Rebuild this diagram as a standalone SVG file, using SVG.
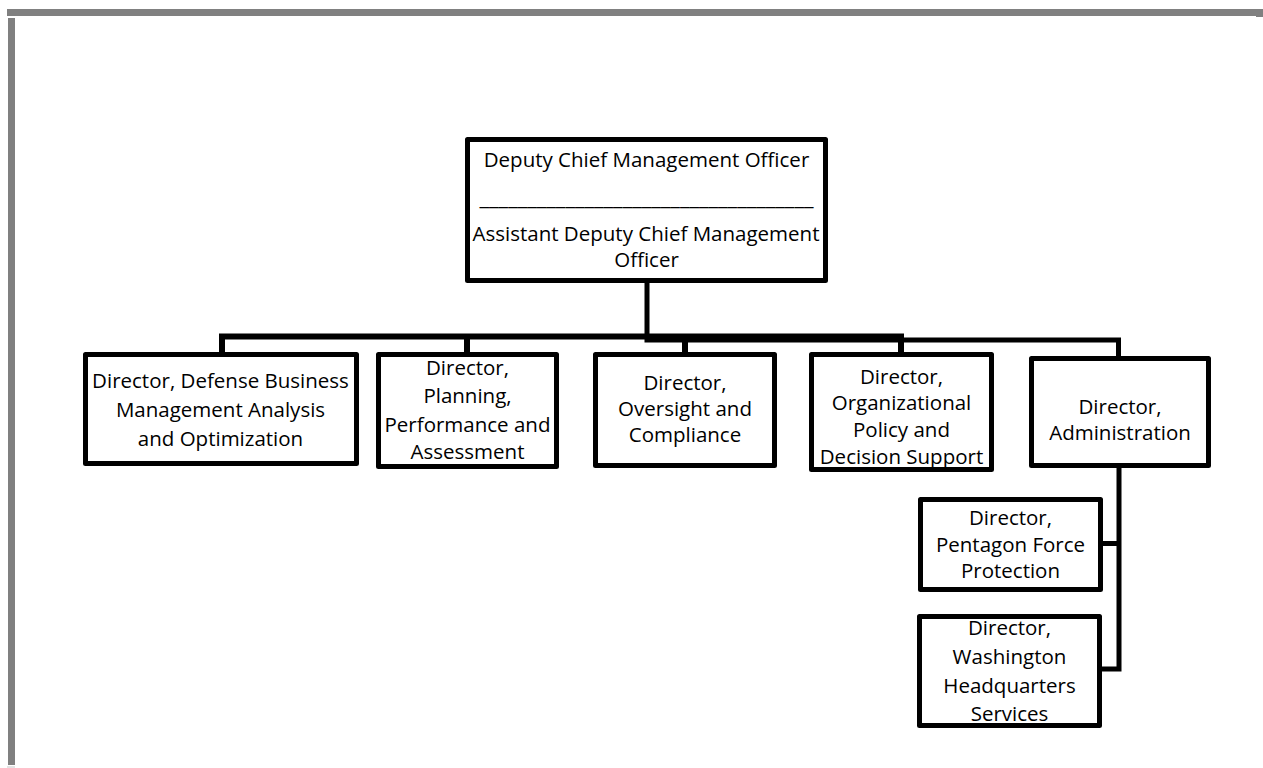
<svg xmlns="http://www.w3.org/2000/svg" width="1263" height="768" viewBox="0 0 1263 768">
<style>
.box{fill:#fff;stroke:#000;stroke-width:5;stroke-linejoin:round}
.lbl{font-family:"Open Sans","Liberation Sans",sans-serif;font-size:20.5px;fill:#000;text-anchor:middle}
.con{fill:none;stroke:#000;stroke-width:6}
.frame{fill:#808080}
</style>
<rect width="1263" height="768" fill="#fff"/>
<g id="frame">
<rect class="frame" x="7" y="9" width="1256" height="7"/>
<rect class="frame" x="1256" y="15" width="7" height="2"/>
<rect class="frame" x="8" y="18" width="7" height="747"/>
<rect x="7" y="766.5" width="8" height="1" fill="#c8c8c8"/>
</g>
<g id="connectors">
<path class="con" d="M222,356 V336.5 H901 V356"/>
<path class="con" d="M467,336.5 V356 M685,336.5 V356"/>
<path class="con" style="stroke-width:5" d="M647,283 V340 H1118.5 V359"/>
<path class="con" style="stroke-width:5" d="M1119,468 V669 H1101 M1119,543.5 H1102"/>
</g>
<g id="dcmo">
<rect class="box" x="467.5" y="139.5" width="358" height="141"/>
<text class="lbl" x="646.5" y="167">Deputy Chief Management Officer</text>
<text class="lbl" x="646.5" y="205" textLength="334" lengthAdjust="spacingAndGlyphs">___________________________________</text>
<text class="lbl" x="646" y="241">Assistant Deputy Chief Management</text>
<text class="lbl" x="646.5" y="267">Officer</text>
</g>
<g id="dbmao">
<rect class="box" x="85.5" y="354.5" width="271" height="109"/>
<text class="lbl" x="220.5" y="388">Director, Defense Business</text>
<text class="lbl" x="220.5" y="417">Management Analysis</text>
<text class="lbl" x="220.5" y="446">and Optimization</text>
</g>
<g id="ppa">
<rect class="box" x="378.5" y="354.5" width="178" height="112"/>
<text class="lbl" x="467.5" y="375">Director,</text>
<text class="lbl" x="467.5" y="403">Planning,</text>
<text class="lbl" x="467.5" y="432">Performance and</text>
<text class="lbl" x="467.5" y="459">Assessment</text>
</g>
<g id="oc">
<rect class="box" x="595.5" y="354.5" width="179" height="111"/>
<text class="lbl" x="685" y="390">Director,</text>
<text class="lbl" x="685" y="416">Oversight and</text>
<text class="lbl" x="685" y="442">Compliance</text>
</g>
<g id="opds">
<rect class="box" x="811.5" y="354.5" width="180" height="115"/>
<text class="lbl" x="901.5" y="384">Director,</text>
<text class="lbl" x="901.5" y="410">Organizational</text>
<text class="lbl" x="901.5" y="437">Policy and</text>
<text class="lbl" x="901.5" y="464">Decision Support</text>
</g>
<g id="admin">
<rect class="box" x="1031.5" y="358.5" width="177" height="107"/>
<text class="lbl" x="1120" y="414">Director,</text>
<text class="lbl" x="1120" y="440">Administration</text>
</g>
<g id="pfp">
<rect class="box" x="920.5" y="499.5" width="180" height="90"/>
<text class="lbl" x="1010.5" y="525">Director,</text>
<text class="lbl" x="1010.5" y="552">Pentagon Force</text>
<text class="lbl" x="1010.5" y="578">Protection</text>
</g>
<g id="whs">
<rect class="box" x="919.5" y="616.5" width="180" height="109"/>
<text class="lbl" x="1009.5" y="635">Director,</text>
<text class="lbl" x="1009.5" y="664">Washington</text>
<text class="lbl" x="1009.5" y="693">Headquarters</text>
<text class="lbl" x="1009.5" y="721">Services</text>
</g>
</svg>
